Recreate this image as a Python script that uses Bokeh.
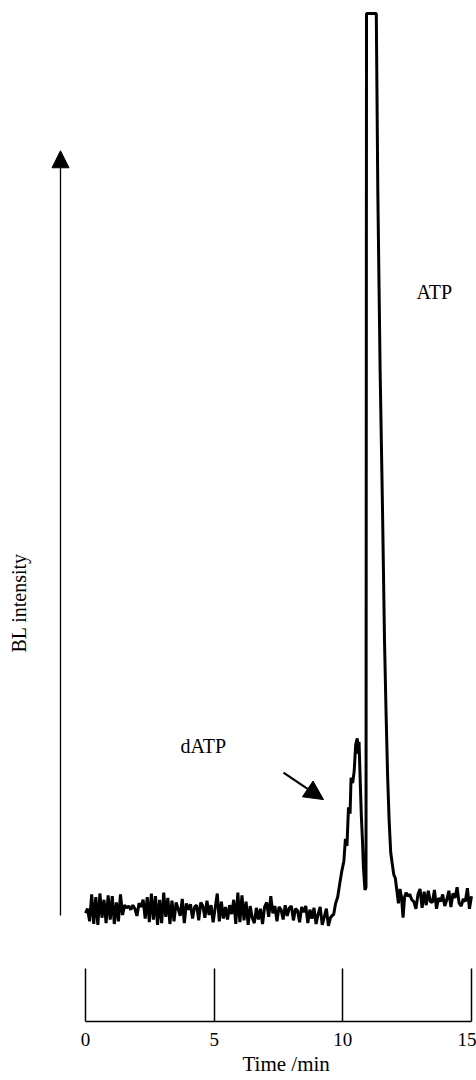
from bokeh.plotting import figure
from bokeh.models import (Range1d, LinearAxis, FixedTicker, Arrow, NormalHead,
                          Label, ColumnDataSource, Title)
from bokeh.embed import file_html
from bokeh.resources import INLINE

# ---------------- data ----------------
# baseline: t = 0 ... 9.6 min, every 0.08 min
base_t = [round(i * 0.08, 2) for i in range(121)]
base_v = [
    -0.3, 0.2, -1.2, 1.8, -1.5, 1.5, -1.6, 1.9, -0.8, 1.2,
    -1.4, 1.7, -1.0, 1.6, -1.5, 0.9, -1.2, 1.8, -0.5, 0.6,
    0.3, 0.5, 0.1, 0.6, 0.2, -0.6, 0.8, 0.4, 1.2, -0.9,
    1.5, -1.3, 1.9, -1.0, 1.6, -1.6, 1.2, -1.4, 2.0, -0.7,
    1.4, -1.5, 1.1, -1.2, 0.9, 0.2, -0.6, 1.3, -1.4, 0.8,
    0.1, 0.7, -0.9, 0.4, 0.6, -1.1, 0.9, 0.5, -0.8, 1.1,
    -0.5, 0.6, -1.3, 0.3, 1.9, -1.2, 1.0, -0.9, 0.4, -1.0,
    0.6, -0.4, 1.2, -1.5, 2.0, -1.3, 1.7, -1.1, 1.0, -1.6,
    0.5, -0.8, -1.4, 0.3, -1.0, 0.2, -1.5, 0.4, 0.9, -0.7,
    1.6, -0.3, 0.5, -1.2, 0.4, 0.1, -1.0, 0.6, -0.6, 0.3,
    0.5, -1.1, 0.2, 0.0, -1.3, 0.4, -0.2, 0.5, -1.4, 0.1,
    -0.9, 0.3, -1.5, -0.4, 0.4, -1.6, -0.7, 0.2, -1.7, -0.8,
    -0.5,
]
# dATP and ATP peaks (ATP saturates the detector at 100)
peak_t = [9.64, 9.72, 9.80, 9.88, 9.96, 10.04, 10.10, 10.16, 10.22, 10.28,
          10.32, 10.38, 10.44, 10.50, 10.56, 10.60, 10.63, 10.68, 10.72, 10.76,
          10.80, 10.86, 10.90,
          10.92, 11.30, 11.36, 11.45, 11.54, 11.62, 11.68, 11.74, 11.80, 11.86,
          11.92, 11.98, 12.04, 12.10]
peak_v = [-0.5, 0.8, 1.5, 3.0, 4.4, 5.5, 8.0, 7.2, 11.5, 10.8,
          14.8, 14.2, 15.5, 18.5, 19.2, 17.5, 18.8, 14.0, 10.5, 8.0,
          4.8, 2.3, 2.6,
          100.0, 100.0, 80.0, 60.0, 45.0, 30.0, 22.0, 15.0, 10.0, 6.5,
          5.2, 4.0, 3.6, 2.2]
# tail baseline after ATP
tail_t = [12.16, 12.22, 12.28, 12.34, 12.40, 12.46, 12.52, 12.60, 12.68, 12.76,
          12.84, 12.92, 13.00, 13.08, 13.16, 13.24, 13.32, 13.40, 13.48, 13.56,
          13.64, 13.72, 13.80, 13.88, 13.96, 14.04, 14.12, 14.20, 14.28, 14.36,
          14.44, 14.52, 14.60, 14.68, 14.76, 14.84, 14.92, 15.00]
tail_v = [0.8, 2.4, 1.5, -0.8, 1.5, 2.0, 1.6, 1.8, 1.2, 1.0,
          0.2, 1.8, 2.4, 0.3, 2.1, 0.6, 2.2, 1.0, 0.9, 2.3,
          0.2, 1.4, 1.0, 1.8, 0.5, 1.2, 2.2, 0.4, 1.9, 1.4,
          2.6, 0.8, 0.5, 1.3, 1.0, 2.5, 0.2, 1.6]

time = base_t + peak_t + tail_t
intensity = base_v + peak_v + tail_v

x_ticks = [0, 5, 10, 15]
x_tick_labels = {0: "0", 5: "5", 10: "10", 15: "15"}

FONT = "Liberation Serif"

# ---------------- figure ----------------
p = figure(frame_width=468, frame_height=1013, output_backend="svg",
           toolbar_location=None,
           x_range=Range1d(-2.992, 15.194), y_range=Range1d(-12.37, 100.56),
           x_axis_location=None, y_axis_location=None,
           min_border_left=8, min_border_right=0, min_border_top=8,
           min_border_bottom=0)
p.grid.visible = False
p.outline_line_color = None
p.background_fill_color = "white"
p.border_fill_color = "white"

src = ColumnDataSource(dict(t=time, v=intensity))
p.line("t", "v", source=src, line_color="black", line_width=3.0)

xaxis = LinearAxis(bounds=(0, 15), ticker=FixedTicker(ticks=x_ticks),
                   major_label_overrides=x_tick_labels)
xaxis.major_tick_in = 53
xaxis.major_tick_out = 0
xaxis.minor_tick_line_color = None
xaxis.axis_line_width = 1.5
xaxis.major_tick_line_width = 1.5
xaxis.major_label_standoff = 11
xaxis.major_label_text_font = FONT
xaxis.major_label_text_font_size = "19px"
xaxis.major_label_text_color = "black"
p.add_layout(xaxis, "below")

p.add_layout(Title(text="Time /min", align="left", offset=234,
                   text_font=FONT, text_font_size="21px",
                   text_font_style="normal", text_color="black",
                   standoff=3), "below")

# y "axis" arrow
p.add_layout(Arrow(end=NormalHead(size=17, fill_color="black", line_color="black"),
                   x_start=-0.9715, y_start=-0.56, x_end=-0.9715, y_end=84.7,
                   line_width=1.3, line_color="black"))
# dATP arrow
p.add_layout(Arrow(end=NormalHead(size=19, fill_color="black", line_color="black"),
                   x_start=7.694, y_start=15.38, x_end=9.249, y_end=12.37,
                   line_width=2.2, line_color="black"))

def lbl(text, x, y, align="left", angle=0.0):
    p.add_layout(Label(x=x, y=y, text=text, text_font=FONT,
                       text_font_size="20px", text_color="black",
                       text_align=align, text_baseline="middle", angle=angle))

lbl("dATP", 3.692, 18.39)
lbl("ATP", 12.86, 69.0)
lbl("BL intensity", -2.60, 34.3, align="center", angle=1.5708)

open("out.html", "w").write(file_html(p, INLINE))
